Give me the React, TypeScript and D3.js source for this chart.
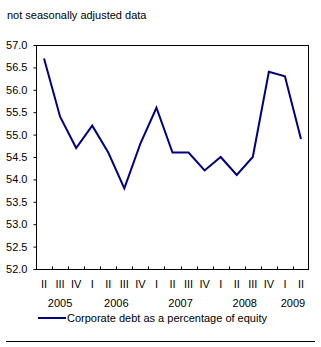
import { useEffect, useRef } from "react";
import * as d3 from "d3";

const quarters = ["II", "III", "IV", "I", "II", "III", "IV", "I", "II", "III", "IV", "I", "II", "III", "IV", "I", "II"];
const debtRatio = [56.7, 55.4, 54.7, 55.2, 54.6, 53.8, 54.8, 55.6, 54.6, 54.6, 54.2, 54.5, 54.1, 54.5, 56.4, 56.3, 54.9];
const years = ["2005", "2006", "2007", "2008", "2009"];
const yearSpans = [[0, 2], [3, 6], [7, 10], [11, 14], [15, 16]];
const yTicks = [52.0, 52.5, 53.0, 53.5, 54.0, 54.5, 55.0, 55.5, 56.0, 56.5, 57.0];

const App = () => {
  const ref = useRef<SVGSVGElement>(null);

  useEffect(() => {
    const width = 321;
    const height = 347;
    const margin = { top: 45, right: 12, bottom: 78, left: 36 };
    const font = "'Liberation Sans', Arial, sans-serif";

    const svg = d3.select(ref.current);
    svg.selectAll("*").remove();

    const idx = quarters.map((_, i) => i);
    const x = d3
      .scaleBand<number>()
      .domain(idx)
      .range([margin.left, width - margin.right]);
    const y = d3
      .scaleLinear()
      .domain([52, 57])
      .range([height - margin.bottom, margin.top]);

    const bottom = height - margin.bottom;

    svg
      .append("text")
      .attr("x", 7)
      .attr("y", 19)
      .attr("font-family", font)
      .attr("font-size", 11)
      .text("not seasonally adjusted data");

    // plot frame
    svg
      .append("rect")
      .attr("x", margin.left + 0.5)
      .attr("y", margin.top + 0.5)
      .attr("width", width - margin.right - margin.left - 1)
      .attr("height", bottom - margin.top)
      .attr("fill", "none")
      .attr("stroke", "#000");

    // y axis
    const yAxis = svg
      .append("g")
      .attr("transform", `translate(${margin.left + 0.5},0)`)
      .call(
        d3
          .axisLeft(y)
          .tickValues(yTicks)
          .tickSize(3)
          .tickPadding(6)
          .tickFormat(d3.format(".1f"))
      );
    yAxis.select(".domain").remove();
    yAxis
      .selectAll("text")
      .attr("font-family", font)
      .attr("font-size", 11)
      .attr("fill", "#000");
    yAxis.selectAll("line").attr("stroke", "#000");

    // x ticks at category boundaries, pointing inward
    const bounds = idx.map((i) => x(i)!).concat([x(idx.length - 1)! + x.bandwidth()]);
    svg
      .append("g")
      .selectAll("line")
      .data(bounds.slice(1, -1))
      .join("line")
      .attr("x1", (d) => Math.round(d) + 0.5)
      .attr("x2", (d) => Math.round(d) + 0.5)
      .attr("y1", bottom + 0.5)
      .attr("y2", bottom - 2.5)
      .attr("stroke", "#000");

    svg
      .append("g")
      .selectAll("text")
      .data(quarters)
      .join("text")
      .attr("x", (_, i) => x(i)! + x.bandwidth() / 2)
      .attr("y", bottom + 19)
      .attr("text-anchor", "middle")
      .attr("font-family", font)
      .attr("font-size", 11)
      .text((d) => d);

    svg
      .append("g")
      .selectAll("text")
      .data(years)
      .join("text")
      .attr("x", (_, i) => {
        const [a, b] = yearSpans[i];
        return (x(a)! + x(b)! + x.bandwidth()) / 2;
      })
      .attr("y", bottom + 38)
      .attr("text-anchor", "middle")
      .attr("font-family", font)
      .attr("font-size", 11)
      .text((d) => d);

    const line = d3
      .line<number>()
      .x((_, i) => x(i)! + x.bandwidth() / 2)
      .y((d) => y(d));

    svg
      .append("path")
      .datum(debtRatio)
      .attr("d", line)
      .attr("fill", "none")
      .attr("stroke", "#000080")
      .attr("stroke-width", 2)
      .attr("stroke-linejoin", "miter");

    // legend
    svg
      .append("line")
      .attr("x1", 38)
      .attr("x2", 66)
      .attr("y1", 318)
      .attr("y2", 318)
      .attr("stroke", "#000080")
      .attr("stroke-width", 2);
    svg
      .append("text")
      .attr("x", 67)
      .attr("y", 322)
      .attr("font-family", font)
      .attr("font-size", 11)
      .text("Corporate debt as a percentage of equity");

    svg
      .append("line")
      .attr("x1", 6)
      .attr("x2", 315)
      .attr("y1", 341.5)
      .attr("y2", 341.5)
      .attr("stroke", "#000");
  }, []);

  return (
    <svg
      ref={ref}
      width={321}
      height={347}
      style={{ position: "absolute", left: 0, top: 0, background: "#fff" }}
    />
  );
};

export default App;
